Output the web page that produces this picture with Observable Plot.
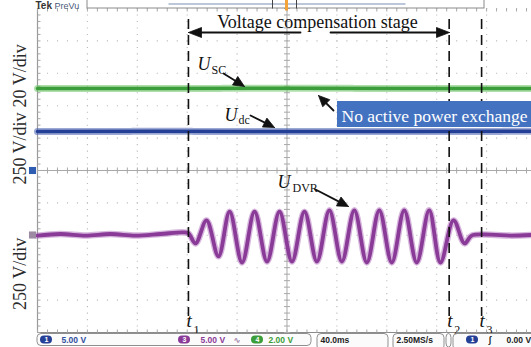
<!DOCTYPE html>
<html><head><meta charset="utf-8">
<script src="https://cdn.jsdelivr.net/npm/d3@7"></script>
<script src="https://cdn.jsdelivr.net/npm/@observablehq/plot@0.6"></script>
<style>html,body{margin:0;padding:0;background:#fff;overflow:hidden}</style>
</head><body><div id="chart"></div>
<script>
// ---------- data (time in ms, values in screen divisions from centre) ----------
const tFlat = [0, 100, 200, 300, 396];
const uSC   = [2.53, 2.53, 2.54, 2.53, 2.53];
const uDC   = [1.20, 1.21, 1.20, 1.20, 1.21];

const tDVR = [0, 18.4, 38.5, 58.5, 78.6, 98.6, 117, 121, 126.7, 135.5, 145.1, 154, 164, 174, 184, 194, 204, 214, 224, 234, 244, 254, 264, 274, 284, 294, 304, 314, 323, 333.5, 342.3, 348, 363, 379, 396];
const uDVR = [-2.01, -1.96, -2.01, -1.96, -2.01, -1.96, -1.91, -1.94, -2.25, -1.54, -2.65, -1.27, -2.84, -1.27, -2.81, -1.27, -2.81, -1.27, -2.81, -1.23, -2.81, -1.23, -2.84, -1.23, -2.84, -1.23, -2.84, -1.23, -2.84, -1.54, -2.25, -2.01, -1.98, -2.01, -1.99];

const eventNames = ["1", "2", "3"];
const eventTimes = [121, 330, 356];

const scaleLabels = ["20 V/div", "250 V/div", "250 V/div"];
const scaleCentres = [2.92, 0.68, -3.19];

// ---------- geometry ----------
const W = 531, H = 347, ML = 37, MT = 8, MB = 15, MR = 0;
const T_MAX = 396;
const pxPerMs = (W - ML - MR) / T_MAX;
const pxPerDiv = (H - MT - MB) / 10;
const yC = MT + 5 * pxPerDiv;
const fx = p => (p - ML) / pxPerMs;
const fy = p => (yC - p) / pxPerDiv;

const green = "#3c9e3a", greenL = "#6cc466";
const blue = "#243f96", blueL = "#4a63b3";
const purple = "#8a3b98", purpleL = "#b070bb";

const flatSC = tFlat.map((t, i) => ({t, v: uSC[i]}));
const flatDC = tFlat.map((t, i) => ({t, v: uDC[i]}));
const dvr = tDVR.map((t, i) => ({t, v: uDVR[i]}));
const events = eventNames.map((n, i) => ({n, t: eventTimes[i]}));
const scales = scaleLabels.map((s, i) => ({s, c: scaleCentres[i]}));

// arrowhead helper (pixel space -> data)
function head(tip, from, len = 11, hw = 4.5) {
  const dx = tip[0] - from[0], dy = tip[1] - from[1], L = Math.hypot(dx, dy);
  const ux = dx / L, uy = dy / L, bx = tip[0] - ux * len, by = tip[1] - uy * len;
  return [[tip[0], tip[1]], [bx - uy * hw, by + ux * hw], [bx + uy * hw, by - ux * hw], [tip[0], tip[1]]]
    .map(([a, b]) => ({x: fx(a), y: fy(b)}));
}
function shaft(tip, from, len = 10) {
  const dx = tip[0] - from[0], dy = tip[1] - from[1], L = Math.hypot(dx, dy);
  return [{x: fx(from[0]), y: fy(from[1])}, {x: fx(tip[0] - dx / L * len), y: fy(tip[1] - dy / L * len)}];
}
const arrows = [
  [[244, 86], [223, 73]],
  [[274, 127], [250, 115]],
  [[318, 95], [333, 110]],
  [[348, 206], [315, 189]],
  [[188, 32], [300, 32]],
  [[449, 32], [330, 32]]
];

// grid helpers
const gridX = d3.range(40, 400, 40).filter(v => v !== 200);
const gridY = [-4, -3, -2, -1, 1, 2, 3, 4, 5];
const tk = 3;
const ticks = [
  ...d3.range(0, 400, 8).map(t => ({x1: t, x2: t, y1: fy(yC - tk), y2: fy(yC + tk)})),
  ...d3.range(-5, 5.01, 0.2).map(v => ({x1: 200 - tk / pxPerMs, x2: 200 + tk / pxPerMs, y1: v, y2: v})),
  ...d3.range(-5, 5.01, 0.2).map(v => ({x1: 0, x2: tk / pxPerMs, y1: v, y2: v})),
  ...d3.range(0, 400, 8).map(t => ({x1: t, x2: t, y1: -5, y2: -5 + tk / pxPerDiv})),
  ...d3.range(0, 400, 8).map(t => ({x1: t, x2: t, y1: 5, y2: 5 - tk / pxPerDiv}))
];

// header/status decorations (pixels)
const R = (x1, x2, y1, y2, o = {}) => ({x1: fx(x1), x2: fx(x2), y1: fy(y1), y2: fy(y2), ...o});
const boxes = [
  R(87, 484, -3, 8),
  R(37, 311, 333.5, 345.5),
  R(317, 388, 333.5, 350),
  R(393, 444, 333.5, 350),
  R(446, 451, 333.5, 347),
  R(453, 545, 333.5, 350)
];
const badges = [
  {c: 46, col: blue, n: "1"}, {c: 184, col: purple, n: "3"}, {c: 257, col: green, n: "4"}, {c: 472, col: blue, n: "1"}
];
const statusText = [
  {x: 61, s: "5.00 V", col: "#2f4fa0"},
  {x: 200, s: "5.00 V", col: purple},
  {x: 233, s: "∿", col: "#a080a8"},
  {x: 268, s: "2.00 V", col: green},
  {x: 320, s: "40.0ms", col: "#222"},
  {x: 396, s: "2.50MS/s", col: "#222"},
  {x: 488, s: "ʃ", col: "#222"},
  {x: 506, s: "0.00 V", col: "#222"}
];

const serif = "Liberation Serif, Times New Roman, serif";
const sans = "Liberation Sans, DejaVu Sans, sans-serif";

const marks = [
  // grid
  Plot.ruleX(gridX, {stroke: "#b9b9b9", strokeWidth: 1.1, strokeDasharray: `1.1,${pxPerDiv / 5 - 1.1}`}),
  Plot.ruleY(gridY, {stroke: "#b9b9b9", strokeWidth: 1.1, strokeDasharray: `1.1,${pxPerMs * 8 - 1.1}`}),
  Plot.ruleX([200], {stroke: "#a8a8a8", strokeWidth: 1}),
  Plot.ruleY([0], {stroke: "#a8a8a8", strokeWidth: 1}),
  Plot.ruleX([0], {stroke: "#999", strokeWidth: 1.2}),
  Plot.ruleY([-5], {stroke: "#8a8a8a", strokeWidth: 1.2}),
  Plot.link(ticks, {x1: "x1", x2: "x2", y1: "y1", y2: "y2", stroke: "#a8a8a8", strokeWidth: 1}),

  // traces
  Plot.line(flatSC, {x: "t", y: "v", stroke: greenL, strokeWidth: 7, strokeDasharray: "0.8,1.6", strokeOpacity: 0.55}),
  Plot.line(flatSC, {x: "t", y: "v", stroke: green, strokeWidth: 3.5}),
  Plot.line(flatDC, {x: "t", y: "v", stroke: blueL, strokeWidth: 7, strokeDasharray: "0.8,1.6", strokeOpacity: 0.55}),
  Plot.line(flatDC, {x: "t", y: "v", stroke: blue, strokeWidth: 3.5}),
  Plot.line(dvr, {x: "t", y: "v", curve: "catmull-rom", stroke: purpleL, strokeWidth: 6.5, strokeOpacity: 0.5}),
  Plot.line(dvr, {x: "t", y: "v", curve: "catmull-rom", stroke: purple, strokeWidth: 3.8}),

  // ground markers
  Plot.dot([{x: fx(32), y: 0}], {x: "x", y: "y", symbol: "square", r: 4, fill: "#2d5cb0"}),
  Plot.dot([{x: fx(32), y: fy(234.5)}], {x: "x", y: "y", symbol: "square", r: 4, fill: "#9d8ba3"}),

  // event dashed lines
  Plot.ruleX(events, {x: "t", y1: fy(19), y2: fy(316), stroke: "#111", strokeWidth: 1.6, strokeDasharray: "10,6"}),
  Plot.text(events, {x: d => d.t + fx(ML - 2), y: fy(326), text: () => "t", fontFamily: serif, fontStyle: "italic", fontSize: 19, lineAnchor: "bottom", textAnchor: "start", fill: "#111"}),
  Plot.text(events, {x: d => d.t + fx(ML + 5), y: fy(333), text: "n", fontFamily: serif, fontSize: 12, lineAnchor: "bottom", textAnchor: "start", fill: "#111"}),

  // arrows
  ...arrows.map(([tip, from]) => Plot.line(shaft(tip, from, tip[1] === from[1] ? 10 : 8), {x: "x", y: "y", stroke: "#111", strokeWidth: 1.8})),
  ...arrows.map(([tip, from]) => Plot.line(head(tip, from, tip[1] === from[1] ? 13 : 11, 5), {x: "x", y: "y", fill: "#111", stroke: "#111", strokeWidth: 0.8})),

  // annotation texts
  Plot.text([{x: fx(317), y: fy(27), s: "Voltage compensation stage"}], {x: "x", y: "y", text: "s", fontFamily: serif, fontSize: 18, lineAnchor: "bottom", textAnchor: "middle", fill: "#111"}),
  Plot.text([
    {x: fx(197), y: fy(69), s: "U"}, {x: fx(224), y: fy(120), s: "U"}, {x: fx(277), y: fy(187), s: "U"}
  ], {x: "x", y: "y", text: "s", fontFamily: serif, fontStyle: "italic", fontSize: 18, lineAnchor: "bottom", textAnchor: "start", fill: "#111"}),
  Plot.text([
    {x: fx(211), y: fy(73), s: "SC"}, {x: fx(238), y: fy(123), s: "dc"}, {x: fx(292), y: fy(191), s: "DVR"}
  ], {x: "x", y: "y", text: "s", fontFamily: serif, fontSize: 12, lineAnchor: "bottom", textAnchor: "start", fill: "#111"}),
  Plot.rect([R(337, 545, 101, 127)], {x1: "x1", x2: "x2", y1: "y1", y2: "y2", fill: "#4372c0"}),
  Plot.text([{x: fx(341), y: fy(121), s: "No active power exchange"}], {x: "x", y: "y", text: "s", fontFamily: serif, fontSize: 17.5, lineAnchor: "bottom", textAnchor: "start", fill: "#fff"}),

  // rotated scale labels
  Plot.text(scales, {x: fx(20), y: "c", text: "s", rotate: -90, fontFamily: serif, fontSize: 18, textAnchor: "middle", lineAnchor: "middle", fill: "#2a2a2a"}),

  // header
  Plot.rect([boxes[0]], {x1: "x1", x2: "x2", y1: "y1", y2: "y2", fill: "#fff", stroke: "#8a8a8a", strokeWidth: 1}),
  Plot.link([{x1: fx(168), x2: fx(405), y1: fy(3.5), y2: fy(3.5)}], {x1: "x1", x2: "x2", y1: "y1", y2: "y2", stroke: "#a6b4cc", strokeWidth: 1.6}),
  Plot.link([{x1: fx(272), x2: fx(272), y1: fy(-1), y2: fy(8)}, {x1: fx(296), x2: fx(296), y1: fy(-1), y2: fy(8)}], {x1: "x1", x2: "x2", y1: "y1", y2: "y2", stroke: "#444", strokeWidth: 1}),
  Plot.link([{x1: fx(286), x2: fx(286), y1: fy(-1), y2: fy(10)}], {x1: "x1", x2: "x2", y1: "y1", y2: "y2", stroke: "#f2a33a", strokeWidth: 3}),
  Plot.text([{x: fx(35), y: fy(8), s: "Tek"}], {x: "x", y: "y", text: "s", fontFamily: sans, fontWeight: "bold", fontSize: 10, lineAnchor: "bottom", textAnchor: "start", fill: "#333"}),
  Plot.text([{x: fx(54), y: fy(8), s: "PreVu"}], {x: "x", y: "y", text: "s", fontFamily: sans, fontSize: 9, lineAnchor: "bottom", textAnchor: "start", fill: "#4a5a7a"}),

  // status bar
  Plot.rect(boxes.slice(1), {x1: "x1", x2: "x2", y1: "y1", y2: "y2", fill: "#fbfbfb", stroke: "#8f8f8f", strokeWidth: 1, rx: 4}),
  Plot.rect(badges, {x1: d => fx(d.c - 6), x2: d => fx(d.c + 6), y1: fy(335.5), y2: fy(343.5), fill: "col", rx: 4}),
  Plot.text(badges, {x: d => fx(d.c), y: fy(339.5), text: "n", fill: "#fff", fontFamily: sans, fontWeight: "bold", fontSize: 7, textAnchor: "middle", lineAnchor: "middle"}),
  Plot.text(statusText, {x: d => fx(d.x), y: fy(342.5), text: "s", fill: "col", fontFamily: sans, fontWeight: "bold", fontSize: 8.5, textAnchor: "start", lineAnchor: "bottom"}),
  Plot.text([{x: fx(397), y: fy(352.5), s: "1M points"}], {x: "x", y: "y", text: "s", fill: "#222", fontFamily: sans, fontWeight: "bold", fontSize: 8, textAnchor: "start", lineAnchor: "bottom"})
];

const chart = Plot.plot({
  width: W, height: H,
  marginLeft: ML, marginRight: MR, marginTop: MT, marginBottom: MB,
  x: {domain: [0, T_MAX], axis: null},
  y: {domain: [-5, 5], axis: null},
  style: {background: "#fff", overflow: "hidden"},
  marks
});
document.getElementById("chart").appendChild(chart);
</script>
</body></html>
